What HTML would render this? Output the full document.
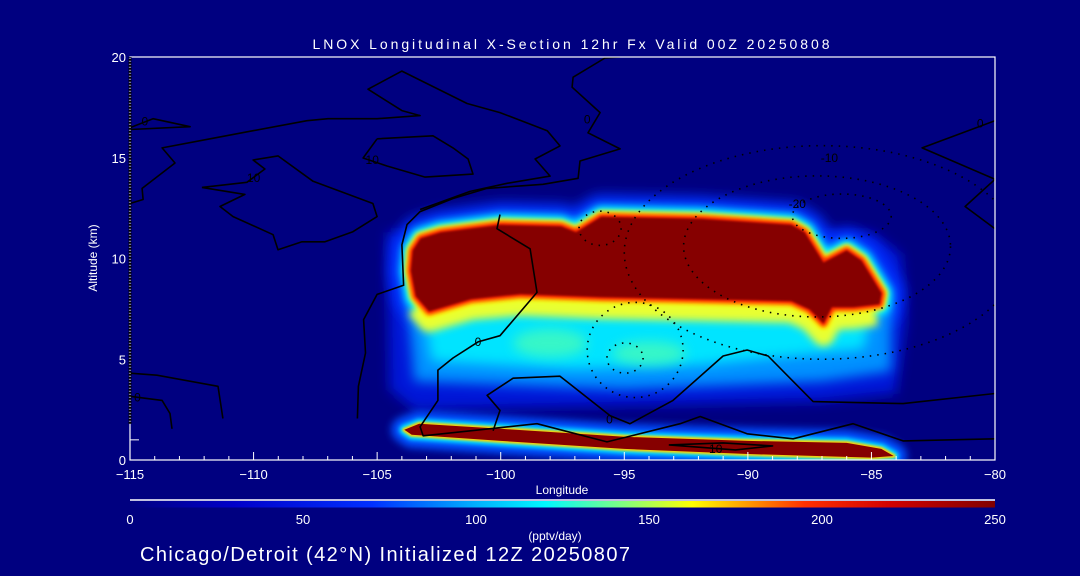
<!DOCTYPE html>
<html><head><meta charset="utf-8"><style>
html,body{margin:0;padding:0;background:#000080;}
svg{display:block;font-family:"Liberation Sans",sans-serif;}
</style></head><body>
<svg id="chart" width="1080" height="576" viewBox="0 0 1080 576" xmlns="http://www.w3.org/2000/svg">
<defs>
<clipPath id="plotclip"><rect x="130" y="57" width="865" height="403"/></clipPath>
<filter id="b8" filterUnits="userSpaceOnUse" x="0" y="0" width="1080" height="576"><feGaussianBlur stdDeviation="8"/></filter>
<filter id="b6" filterUnits="userSpaceOnUse" x="0" y="0" width="1080" height="576"><feGaussianBlur stdDeviation="6"/></filter>
<filter id="b4" filterUnits="userSpaceOnUse" x="0" y="0" width="1080" height="576"><feGaussianBlur stdDeviation="4"/></filter>
<filter id="b2" filterUnits="userSpaceOnUse" x="0" y="0" width="1080" height="576"><feGaussianBlur stdDeviation="2"/></filter>
<filter id="b1" filterUnits="userSpaceOnUse" x="0" y="0" width="1080" height="576"><feGaussianBlur stdDeviation="1"/></filter>
<linearGradient id="jet" x1="0" y1="0" x2="1" y2="0">
<stop offset="0" stop-color="#000080"/><stop offset="0.12" stop-color="#0000c8"/>
<stop offset="0.28" stop-color="#0030ff"/><stop offset="0.4" stop-color="#00b0ff"/>
<stop offset="0.48" stop-color="#00f8ff"/><stop offset="0.57" stop-color="#80ff80"/>
<stop offset="0.65" stop-color="#ffff00"/><stop offset="0.78" stop-color="#ff3000"/>
<stop offset="0.88" stop-color="#d00000"/><stop offset="1" stop-color="#800000"/>
</linearGradient>
</defs>
<g id="field" clip-path="url(#plotclip)"></g>
<g id="contours" clip-path="url(#plotclip)"></g>
<g id="axes"></g>
<text x="571" y="49" fill="#fff" font-size="14" text-anchor="middle" textLength="517">LNOX Longitudinal X-Section 12hr  Fx Valid 00Z 20250808</text>
<text x="562" y="494" fill="#fff" font-size="12" text-anchor="middle">Longitude</text>
<text x="0" y="0" fill="#fff" font-size="12" text-anchor="middle" transform="translate(97,258) rotate(-90)">Altitude (km)</text>
<line x1="130" y1="500" x2="995" y2="500" stroke="#fff" stroke-width="1.5"/>
<rect x="130" y="501" width="865" height="6.5" fill="url(#jet)"/>
<g id="cbar"></g>
<text x="555" y="540" fill="#fff" font-size="12" text-anchor="middle">(pptv/day)</text>
<text x="140" y="561" fill="#fff" font-size="20" textLength="490">Chicago/Detroit (42°N) Initialized 12Z 20250807</text>
</svg>
<script>
// ---- data ----
const xTicks = [-115,-110,-105,-100,-95,-90,-85,-80];
const yTicks = [0,5,10,15,20];
const cbarTicks = [0,50,100,150,200,250];
// LNOX field regions (lon, alt km)
const coreRed = [[-103.56,10.4],[-103.24,11.0],[-102.43,11.3],[-100,11.67],[-97.56,11.6],[-96.95,11.3],[-95.94,12.07],[-91.89,11.97],[-88.24,11.67],[-87.7,11.3],[-86.94,9.8],[-86.0,10.4],[-85.4,9.9],[-84.59,8.28],[-84.67,7.73],[-85.72,7.58],[-86.6,7.58],[-86.94,6.77],[-87.5,7.47],[-88.24,7.88],[-91.9,7.98],[-95.94,8.08],[-99.2,8.23],[-101.2,7.98],[-102.9,7.37],[-103.44,8.13],[-103.64,9.39]];
const coreLowerEdge = [[-103.4,7.6],[-102.9,6.9],[-101.2,7.5],[-99.2,7.7],[-95.94,7.55],[-91.9,7.45],[-88.24,7.35],[-87.5,6.95],[-86.94,6.2],[-86.6,7.0],[-85.72,7.05],[-84.8,7.2]];
const blueBody = [[-104.6,11.3],[-104.5,3.5],[-103.5,2.5],[-95,2.7],[-87,2.9],[-84,3.3],[-83.6,7],[-83.8,10.2],[-85,11.3]];
const lightBody = [[-103.8,8.2],[-103.5,3.9],[-95,3.5],[-87,3.9],[-84.2,4.4],[-84.2,8],[-90,8.2]];
const cyanBody = [[-103.2,8],[-102.8,4.9],[-97,4.5],[-92,4.7],[-87,5.3],[-85.3,5.5],[-85,7.4]];
const greenSpots = [[-98,5.8,1.5,0.7],[-94,5.3,1.5,0.6]];
const stripTop = [[-103.9,1.5],[-103.3,1.8],[-100,1.55],[-95,1.15],[-90,0.95],[-86,0.85],[-84.6,0.55],[-84.1,0.2]];
const stripBottom = [[-85,0.12],[-90,0.3],[-95,0.55],[-100,0.95],[-103.6,1.25]];
// contour lines (solid)
const cA = [[-95.17,20],[-95.78,19.95],[-97.07,19.0],[-97.11,18.5],[-95.98,17.24],[-96.47,16.24],[-95.17,15.44],[-96.79,14.84],[-96.87,13.98],[-98.29,13.68],[-100.56,13.48],[-101.93,12.98],[-103.26,12.33],[-103.79,11.68],[-104.0,10.68],[-103.93,8.67],[-105.0,8.22],[-105.55,6.97],[-105.47,5.31],[-105.76,3.66],[-105.8,2.06]];
const cB = [[-100.03,12.18],[-100.15,11.48],[-98.81,10.48],[-98.53,8.32],[-100.03,6.17],[-100.92,5.86],[-101.93,5.06],[-102.54,4.46],[-102.54,2.96],[-103.26,1.65],[-103.14,1.2],[-100.84,1.5],[-98.53,1.8],[-95.7,0.9],[-92.74,1.8],[-91.93,2.16],[-90.03,1.3],[-88.17,1.05],[-85.74,1.8],[-83.72,0.95],[-80,1.05]];
const cC = [[-100.31,1.45],[-100.03,2.46],[-100.55,3.21],[-99.5,4.06],[-97.6,4.16],[-95.57,2.2],[-94.77,1.8],[-93.03,2.96],[-91.0,5.16],[-90.03,5.46],[-89.18,5.16],[-87.36,2.9],[-83.72,2.8],[-80,3.3]];
const cE = [[-115,12.73],[-114.47,12.93],[-114.51,13.48],[-113.18,14.74],[-113.7,15.49],[-111.76,15.94],[-110.02,16.34],[-107.84,16.84],[-106.99,16.94],[-105.0,16.94],[-103.26,17.09],[-104.0,17.34],[-105.37,18.4],[-104.0,19.3],[-101.36,17.69],[-100.03,17.24],[-98.12,16.34],[-97.6,15.59],[-98.61,14.94],[-98.0,14.09],[-99.74,13.73],[-101.24,13.33],[-103.26,12.43]];
const cD = [[-115,16.49],[-114.07,16.94],[-112.57,16.54],[-115,16.4]];
const cF = [[-112.09,13.53],[-110.27,13.78],[-109.54,14.44],[-110.02,14.89],[-109.01,15.09],[-107.59,13.83],[-105.17,12.73],[-105.0,12.08],[-105.98,11.33],[-107.11,10.83],[-108.04,10.83],[-109.01,10.43],[-109.21,11.18],[-110.83,12.08],[-111.36,12.58],[-110.35,13.18],[-112.09,13.53]];
const cG = [[-105,15.94],[-102.74,16.09],[-101.93,15.49],[-101.32,14.94],[-101.12,14.19],[-103.06,14.04],[-104.6,14.59],[-105.57,14.99],[-105,15.94]];
const cH = [[-115,4.31],[-113.91,4.21],[-111.44,3.66],[-111.24,2.06]];
const cI = [[-115,3.16],[-113.7,2.96],[-113.38,2.31],[-113.3,1.55]];
const cR = [[-80,16.84],[-82.95,15.49],[-80,13.93],[-81.21,12.58],[-80,11.48]];
const cT = [[-93.2,0.75],[-91,0.85],[-89,0.7],[-90.5,0.5],[-93.2,0.75]];
// dotted (negative) contours: lon, alt, rx(deg), ry(km)
const dotted = [[-94.56,5.46,1.94,2.36],[-94.97,5.06,0.73,0.75],[-95.98,11.5,0.85,0.85],[-87.2,10.6,5.4,3.5],[-87.0,10.3,8.0,5.3],[-86.2,12.1,2.0,1.1]];
const labels = [["0",-114.4,16.8],["10",-110,14.0],["10",-105.2,14.9],["0",-100.92,5.86],["0",-114.7,3.1],["0",-96.5,16.9],["0",-80.6,16.7],["-10",-86.7,15.0],["-20",-88.0,12.7],["0",-95.6,2.0],["10",-91.3,0.55]];

// ---- axes functions ----
const X = lon => 130 + (lon + 115) * (865/35);
const Y = alt => 460 - alt * (403/20);
const NS = "http://www.w3.org/2000/svg";
function mk(tag, attrs, parent){const e=document.createElementNS(NS,tag);for(const k in attrs)e.setAttribute(k,attrs[k]);parent.appendChild(e);return e;}
const pts = arr => arr.map(p => X(p[0]).toFixed(1)+","+Y(p[1]).toFixed(1)).join(" ");

const field = document.getElementById("field");
let e;
e = mk("polygon",{points:pts(blueBody),fill:"#0018d8",filter:"url(#b6)"},field);


e = mk("polygon",{points:pts(coreRed),fill:"#0030ff",stroke:"#0030ff","stroke-width":44,"stroke-linejoin":"round",filter:"url(#b6)"},field);


e = mk("polygon",{points:pts(lightBody),fill:"#0090ff",filter:"url(#b6)"},field);


e = mk("polygon",{points:pts(cyanBody),fill:"#00e4ff",filter:"url(#b6)"},field);


greenSpots.forEach(g=>{
  const s = mk("ellipse",{cx:X(g[0]),cy:Y(g[1]),rx:g[2]*865/35,ry:g[3]*403/20,fill:"#50ffb0",opacity:0.7,filter:"url(#b6)"},field);
  
  
});
e = mk("polygon",{points:pts(coreRed),fill:"#00ffff",stroke:"#00ffff","stroke-width":22,"stroke-linejoin":"round",filter:"url(#b4)"},field);


e = mk("polyline",{points:pts(coreLowerEdge),fill:"none",stroke:"#e8ff30","stroke-width":22,"stroke-linejoin":"round",filter:"url(#b4)"},field);


e = mk("polygon",{points:pts(coreRed),fill:"#ffff00",stroke:"#ffff00","stroke-width":13,"stroke-linejoin":"round",filter:"url(#b2)"},field);


e = mk("polygon",{points:pts(coreRed),fill:"#ff2000",stroke:"#ff2000","stroke-width":7,"stroke-linejoin":"round",filter:"url(#b2)"},field);


e = mk("polygon",{points:pts(coreRed),fill:"#860000",filter:"url(#b1)"},field);


const strip = stripTop.concat(stripBottom);
e = mk("polygon",{points:pts(strip),fill:"#0050ff",stroke:"#0050ff","stroke-width":26,"stroke-linejoin":"round",filter:"url(#b4)"},field);


e = mk("polygon",{points:pts(strip),fill:"#00e8ff",stroke:"#00e8ff","stroke-width":10,"stroke-linejoin":"round",filter:"url(#b2)"},field);


e = mk("polygon",{points:pts(strip),fill:"#ff3000",stroke:"#ffd000","stroke-width":4,"stroke-linejoin":"round",filter:"url(#b1)"},field);


e = mk("polygon",{points:pts(strip),fill:"#860000"},field);



const cont = document.getElementById("contours");
[cA,cB,cC,cE,cD,cF,cG,cH,cI,cR,cT].forEach(c=>{
  const l = mk("polyline",{points:pts(c),fill:"none",stroke:"#000","stroke-width":1.6,"stroke-linejoin":"round"},cont);
  
  
});
dotted.forEach(d=>{
  const el = mk("ellipse",{cx:X(d[0]),cy:Y(d[1]),rx:d[2]*865/35,ry:d[3]*403/20,fill:"none",stroke:"#000","stroke-width":1.6,"stroke-dasharray":"1.5 6"},cont);
  
  
});
labels.forEach(lb=>{
  const t = mk("text",{x:X(lb[1]),y:Y(lb[2])+4,"font-size":12,fill:"#000","text-anchor":"middle"},cont);
  t.textContent = lb[0];
  
  
});

const ax = document.getElementById("axes");
e = mk("rect",{x:130,y:57,width:865,height:403,fill:"none",stroke:"#fff","stroke-width":1.2},ax);


e = mk("line",{x1:130,y1:Y(1.8),x2:130,y2:57,stroke:"#000","stroke-width":3,"stroke-dasharray":"2 1"},ax);


for(let v=-115; v<=-80; v++){
  const major = xTicks.includes(v);
  const t = mk("line",{x1:X(v),x2:X(v),y1:460,y2:460-(major?8:4),stroke:"#fff","stroke-width":1},ax);
  
  
}
xTicks.forEach(v=>{
  const t = mk("text",{x:X(v),y:479,"font-size":13,fill:"#fff","text-anchor":"middle"},ax);
  t.textContent = v<0 ? "\u2212"+Math.abs(v) : String(v);
  
  
});
yTicks.forEach(v=>{
  const t = mk("text",{x:126,y:Y(v)+5,"font-size":13,fill:"#fff","text-anchor":"end"},ax);
  t.textContent = String(v);
  
  
});
e = mk("line",{x1:130,x2:139,y1:Y(1),y2:Y(1),stroke:"#fff","stroke-width":1},ax);



const cb = document.getElementById("cbar");
cbarTicks.forEach(v=>{
  const t = mk("text",{x:130+v/250*865,y:524,"font-size":13,fill:"#fff","text-anchor":"middle"},cb);
  t.textContent = String(v);
  
  
});
</script>
</body></html>
